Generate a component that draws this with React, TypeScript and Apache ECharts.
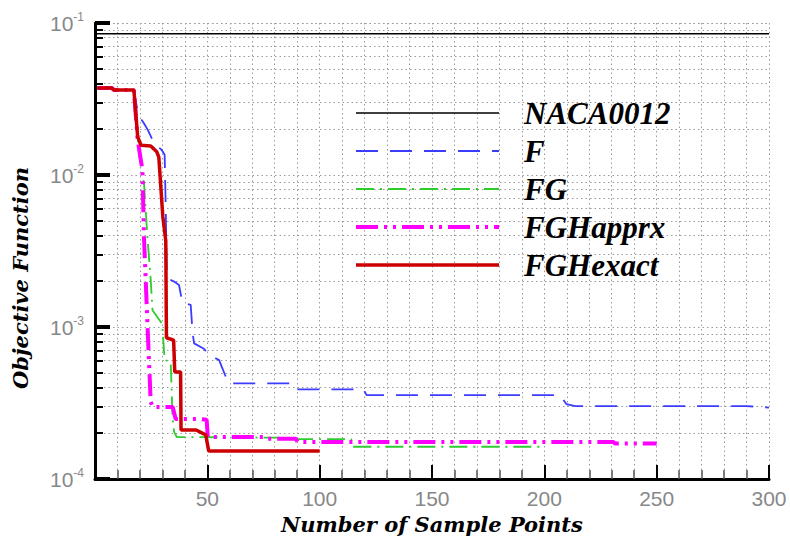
import React, { useEffect, useRef } from 'react';
import * as echarts from 'echarts';

const seriesNames = ['NACA0012', 'F', 'FG', 'FGHapprx', 'FGHexact'];
const seriesColors = ['#000000', '#3c3cff', '#2ecc2e', '#ff00ff', '#cc0000'];

const xTicks = [0, 50, 100, 150, 200, 250, 300];
const yExtent = [1e-4, 1e-1];

const naca0012 = [[0, 0.085], [300, 0.085]];

const fData = [
  [1, 0.0373], [7.5, 0.0373], [8.5, 0.0362], [17.3, 0.0362], [19.3, 0.0248], [21.7, 0.022],
  [23.5, 0.0198], [26.2, 0.0163], [29.7, 0.0146], [31, 0.0136], [31.5, 0.0059], [32, 0.0021],
  [35.2, 0.00199], [37.4, 0.00189], [38.9, 0.00144], [42.6, 0.0014], [43.4, 0.00093],
  [44.1, 0.00078], [48.5, 0.00072], [50.7, 0.000655], [55.2, 0.000607], [56.7, 0.000535],
  [58.2, 0.000471], [59.5, 0.000426], [88, 0.000426], [89.3, 0.000389], [119.5, 0.000389],
  [120.9, 0.000356], [207, 0.000356], [209.8, 0.000311], [213.8, 0.000302], [290, 0.000302],
  [300, 0.000295],
];

const fgData = [
  [1, 0.0373], [7.5, 0.0373], [8.5, 0.0362], [17.3, 0.0362], [19, 0.0178], [19.5, 0.014],
  [21.8, 0.00886], [23.3, 0.00397], [24.8, 0.00204], [25.6, 0.00129], [29.3, 0.00108],
  [30.1, 0.000955], [31, 0.000607], [33.7, 0.000589], [34.5, 0.000256], [35.2, 0.000204],
  [36.4, 0.000189], [82, 0.000187], [83, 0.000183], [114, 0.000183], [115, 0.000163],
  [200, 0.000163],
];

const fghApprxData = [
  [1, 0.0373], [7.5, 0.0373], [8.5, 0.0362], [17.3, 0.0362], [19, 0.017], [21.1, 0.0108],
  [21.8, 0.00391], [22.6, 0.00198], [23.5, 0.000914], [24.8, 0.000321], [25.7, 0.000298],
  [34.6, 0.000298], [35.9, 0.000248], [46.2, 0.000248], [49.7, 0.000245], [50.2, 0.000189],
  [75, 0.000189], [76, 0.000184], [89.3, 0.000184], [90.2, 0.000175], [230.7, 0.000175],
  [231.5, 0.000171], [250, 0.000171],
];

const fghExactData = [
  [1, 0.0373], [7.5, 0.0373], [8.5, 0.0362], [17.3, 0.0362], [19, 0.0178], [20.5, 0.0157],
  [24.8, 0.0155], [27.5, 0.0142], [28.4, 0.0131], [30.2, 0.0053], [31.5, 0.0037],
  [31.8, 0.00085], [35, 0.00082], [35.5, 0.000506], [38.1, 0.000506], [38.3, 0.00021],
  [45, 0.00021], [49.3, 0.000195], [50.6, 0.000153], [100, 0.000153],
];

const seriesData = [naca0012, fData, fgData, fghApprxData, fghExactData];
const seriesDash: (number[] | 'solid')[] = ['solid', [22, 12], [18, 6, 2, 6], [22, 6, 3, 6, 3, 6], 'solid'];
const seriesWidth = [1.6, 1.8, 1.8, 4, 3.5];

const gridLine = { type: [1.5, 3], color: '#9a9a9a', width: 1 };

export default function App() {
  const ref = useRef<HTMLDivElement>(null);
  useEffect(() => {
    const chart = echarts.init(ref.current!, null, { renderer: 'svg' });
    chart.setOption({
      animation: false,
      backgroundColor: '#ffffff',
      grid: { left: 95, right: 21, top: 23, bottom: 69, containLabel: false },
      legend: {
        orient: 'vertical',
        left: 354,
        top: 94,
        padding: 0,
        itemGap: 0,
        itemWidth: 143,
        itemHeight: 14,
        selectedMode: false,
        data: seriesNames,
        itemStyle: { opacity: 0 },
        lineStyle: { width: 'inherit' },
        textStyle: {
          fontFamily: 'Liberation Serif',
          fontWeight: 'bold',
          fontStyle: 'italic',
          fontSize: 31,
          lineHeight: 38,
          color: '#000',
          padding: [0, 0, 0, 20],
        },
      },
      xAxis: {
        type: 'value',
        min: xTicks[0],
        max: xTicks[xTicks.length - 1],
        interval: xTicks[1] - xTicks[0],
        axisLine: { show: true, onZero: false, lineStyle: { color: '#000', width: 3 } },
        axisTick: { show: true, inside: true, length: 14, lineStyle: { color: '#000', width: 2 } },
        minorTick: { show: true, splitNumber: 5, length: 9, lineStyle: { color: '#555', width: 1.5 } },
        splitLine: { show: true, lineStyle: gridLine },
        minorSplitLine: { show: true, lineStyle: gridLine },
        axisLabel: {
          formatter: (v: number) => (v === 0 ? '' : String(v)),
          color: '#888',
          fontSize: 21,
          fontFamily: 'Liberation Sans',
          margin: 9,
        },
        name: 'Number of Sample Points',
        nameLocation: 'middle',
        nameGap: 34,
        nameTextStyle: {
          fontFamily: 'DejaVu Serif',
          fontWeight: 'bold',
          fontStyle: 'italic',
          fontSize: 21,
          color: '#000',
        },
      },
      yAxis: {
        type: 'log',
        logBase: 10,
        min: yExtent[0],
        max: yExtent[1],
        axisLine: { show: true, lineStyle: { color: '#000', width: 3 } },
        axisTick: { show: true, inside: true, length: 15, lineStyle: { color: '#000', width: 4 } },
        minorTick: { show: true, splitNumber: 9, length: 8, lineStyle: { color: '#000', width: 2 } },
        splitLine: { show: true, lineStyle: gridLine },
        minorSplitLine: { show: true, lineStyle: gridLine },
        axisLabel: {
          margin: 11,
          formatter: (v: number) => {
            const e = Math.round(Math.log10(v));
            return `{a|10}{b|${e}}`;
          },
          rich: {
            a: { fontSize: 21, color: '#888', fontFamily: 'Liberation Sans' },
            b: { fontSize: 12, color: '#888', fontFamily: 'Liberation Sans', padding: [0, 0, 12, 0] },
          },
        },
        name: 'Objective Function',
        nameLocation: 'middle',
        nameGap: 64,
        nameTextStyle: {
          fontFamily: 'DejaVu Serif',
          fontWeight: 'bold',
          fontStyle: 'italic',
          fontSize: 21,
          color: '#000',
          padding: [0, 54, 0, 0],
        },
      },
      series: seriesNames.map((name, i) => ({
        name,
        type: 'line',
        data: seriesData[i],
        symbol: 'none',
        showSymbol: false,
        silent: true,
        color: seriesColors[i],
        lineStyle: { color: seriesColors[i], width: seriesWidth[i], type: seriesDash[i] },
        z: 2 + i,
      })),
    });
    return () => chart.dispose();
  }, []);
  return <div ref={ref} style={{ position: 'absolute', left: 0, top: 0, width: 790, height: 548 }} />;
}
